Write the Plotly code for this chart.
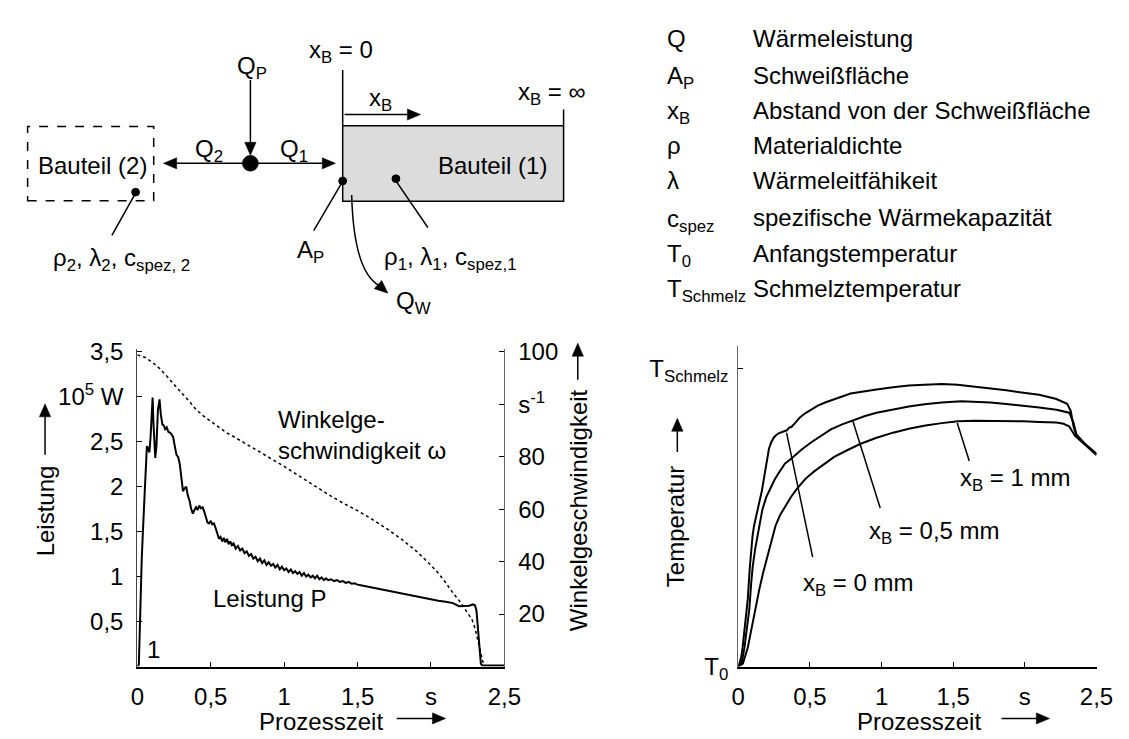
import math
import plotly.graph_objects as go

W, H = 1129, 739
FONT = "Liberation Sans, Arial, Helvetica, sans-serif"
FS = 24

# ---------------- data ----------------
# Leistung P in 10^5 W over Prozesszeit in s
power_points = [
    (0.000, 0.00), (0.010, 0.02), (0.020, 0.60), (0.030, 1.20), (0.044, 1.72), (0.055, 2.15), (0.065, 2.45), (0.075, 2.42), (0.082, 2.38), (0.090, 2.55),
    (0.098, 2.90), (0.104, 2.99), (0.110, 2.70), (0.116, 2.40), (0.122, 2.32), (0.130, 2.45), (0.140, 2.85), (0.151, 2.97), (0.160, 2.80), (0.171, 2.69),
    (0.180, 2.68), (0.189, 2.64), (0.200, 2.66), (0.211, 2.61), (0.222, 2.60), (0.233, 2.58), (0.244, 2.55), (0.255, 2.45), (0.267, 2.35), (0.278, 2.33),
    (0.289, 2.25), (0.300, 2.10), (0.311, 1.95), (0.322, 1.98), (0.333, 2.00), (0.344, 1.90), (0.356, 1.84), (0.367, 1.75), (0.378, 1.70), (0.389, 1.74),
    (0.400, 1.77), (0.411, 1.74), (0.422, 1.79), (0.433, 1.76), (0.445, 1.77), (0.456, 1.72), (0.467, 1.66), (0.478, 1.60), (0.489, 1.59), (0.500, 1.62),
    (0.511, 1.58), (0.522, 1.59), (0.533, 1.54), (0.544, 1.47), (0.556, 1.42), (0.567, 1.44), (0.578, 1.39), (0.589, 1.43), (0.600, 1.38), (0.611, 1.42),
    (0.622, 1.36), (0.633, 1.39), (0.644, 1.35), (0.655, 1.37), (0.670, 1.31), (0.685, 1.34), (0.700, 1.29), (0.715, 1.31), (0.730, 1.26), (0.745, 1.28),
    (0.760, 1.23), (0.775, 1.25), (0.790, 1.20), (0.805, 1.22), (0.820, 1.17), (0.835, 1.20), (0.850, 1.15), (0.865, 1.18), (0.880, 1.13), (0.895, 1.16),
    (0.910, 1.12), (0.925, 1.14), (0.940, 1.10), (0.955, 1.13), (0.970, 1.08), (0.985, 1.11), (1.000, 1.07), (1.015, 1.09), (1.030, 1.05), (1.045, 1.08),
    (1.060, 1.04), (1.075, 1.06), (1.090, 1.03), (1.105, 1.05), (1.120, 1.01), (1.135, 1.04), (1.150, 1.00), (1.165, 1.02), (1.180, 0.99), (1.195, 1.01),
    (1.210, 0.98), (1.225, 1.01), (1.240, 0.97), (1.255, 0.99), (1.270, 0.96), (1.285, 0.98), (1.300, 0.96), (1.320, 0.97), (1.340, 0.95), (1.360, 0.96),
    (1.380, 0.94), (1.400, 0.95), (1.420, 0.93), (1.440, 0.94), (1.460, 0.92), (1.480, 0.925), (1.500, 0.91), (1.530, 0.90), (1.560, 0.89), (1.590, 0.875),
    (1.620, 0.87), (1.650, 0.86), (1.680, 0.845), (1.710, 0.84), (1.740, 0.83), (1.770, 0.82), (1.800, 0.805), (1.830, 0.80), (1.860, 0.785), (1.900, 0.775),
    (1.950, 0.76), (2.000, 0.745), (2.050, 0.73), (2.100, 0.72), (2.150, 0.705), (2.190, 0.67), (2.220, 0.67), (2.260, 0.675), (2.285, 0.69), (2.300, 0.68),
    (2.310, 0.62), (2.320, 0.40), (2.330, 0.18), (2.340, 0.03), (2.350, 0.01), (2.400, 0.01), (2.450, 0.005), (2.500, 0.01),
]

# Winkelgeschwindigkeit omega (right axis units) over Prozesszeit in s
omega_points = [
    (0.00, 118.8), (0.05, 117.9), (0.10, 116.1), (0.15, 113.7), (0.20, 110.7), (0.25, 107.4), (0.30, 104.4), (0.35, 101.3),
    (0.40, 98.0), (0.45, 95.5), (0.50, 93.4), (0.60, 89.4), (0.70, 86.2), (0.80, 83.0), (0.90, 79.7), (1.00, 76.3),
    (1.10, 72.7), (1.20, 69.0), (1.30, 65.6), (1.40, 62.3), (1.50, 59.4), (1.60, 56.1), (1.70, 52.5), (1.80, 48.5),
    (1.90, 44.0), (2.00, 38.6), (2.05, 35.6), (2.10, 32.0), (2.15, 28.0), (2.20, 24.6), (2.25, 20.6), (2.28, 17.8),
    (2.30, 14.6), (2.32, 10.2), (2.335, 6.5), (2.35, 2.5), (2.36, 0.3),
]

# Temperatur (0 = T0, 1 = TSchmelz) over Prozesszeit in s
temp_0mm_points = [
    (0.000, 0.000), (0.020, 0.030), (0.030, 0.063), (0.050, 0.150), (0.066, 0.225), (0.080, 0.330), (0.089, 0.386), (0.100, 0.440),
    (0.110, 0.472), (0.125, 0.505), (0.146, 0.542), (0.165, 0.590), (0.180, 0.633), (0.200, 0.690), (0.214, 0.730), (0.230, 0.752),
    (0.248, 0.768), (0.265, 0.776), (0.282, 0.782), (0.310, 0.787), (0.339, 0.792), (0.355, 0.801), (0.370, 0.803), (0.396, 0.816),
    (0.430, 0.835), (0.464, 0.848), (0.510, 0.862), (0.555, 0.875), (0.610, 0.886), (0.669, 0.897), (0.730, 0.906), (0.783, 0.915),
    (0.870, 0.922), (0.965, 0.929), (1.080, 0.936), (1.190, 0.942), (1.300, 0.945), (1.420, 0.947), (1.530, 0.945), (1.650, 0.939),
    (1.760, 0.933), (1.870, 0.926), (1.990, 0.918), (2.100, 0.911), (2.220, 0.897), (2.270, 0.888), (2.295, 0.881), (2.320, 0.857),
    (2.340, 0.805), (2.360, 0.773), (2.420, 0.746), (2.500, 0.714),
]
temp_05mm_points = [
    (0.000, 0.000), (0.025, 0.015), (0.043, 0.063), (0.060, 0.125), (0.077, 0.192), (0.090, 0.280), (0.100, 0.332), (0.117, 0.392),
    (0.134, 0.440), (0.150, 0.485), (0.168, 0.526), (0.195, 0.568), (0.225, 0.601), (0.255, 0.628), (0.282, 0.649), (0.325, 0.680),
    (0.373, 0.698), (0.440, 0.727), (0.510, 0.752), (0.580, 0.775), (0.646, 0.795), (0.725, 0.812), (0.805, 0.827), (0.885, 0.840),
    (0.965, 0.851), (1.080, 0.862), (1.190, 0.872), (1.300, 0.879), (1.420, 0.885), (1.556, 0.889), (1.650, 0.888), (1.760, 0.885),
    (1.870, 0.880), (1.990, 0.875), (2.100, 0.868), (2.220, 0.861), (2.310, 0.851), (2.340, 0.816), (2.360, 0.778), (2.420, 0.746),
    (2.500, 0.711),
]
temp_1mm_points = [
    (0.000, 0.000), (0.032, 0.010), (0.066, 0.063), (0.100, 0.149), (0.123, 0.205), (0.146, 0.257), (0.172, 0.312), (0.200, 0.365),
    (0.230, 0.420), (0.260, 0.472), (0.292, 0.508), (0.328, 0.537), (0.370, 0.570), (0.418, 0.601), (0.470, 0.630), (0.532, 0.655),
    (0.600, 0.680), (0.669, 0.703), (0.760, 0.725), (0.850, 0.746), (0.960, 0.766), (1.080, 0.784), (1.190, 0.797), (1.306, 0.808),
    (1.420, 0.816), (1.533, 0.822), (1.650, 0.824), (1.760, 0.824), (1.870, 0.823), (1.990, 0.822), (2.100, 0.820), (2.220, 0.818),
    (2.270, 0.814), (2.310, 0.805), (2.350, 0.773), (2.420, 0.743), (2.500, 0.709),
]

time_tickvals = [0, 0.5, 1, 1.5, 2, 2.5]
time_ticktext = ["0", "0,5", "1", "1,5", "s", "2,5"]
power_tickvals = [0.5, 1, 1.5, 2, 2.5, 3, 3.5]
power_ticktext = ["0,5", "1", "1,5", "2", "2,5", "10<sup>5</sup> W", "3,5"]
omega_tickvals = [20, 40, 60, 80, 100, 120]
omega_ticktext = ["20", "40", "60", "80", "s<sup>-1</sup>", "100"]
temp_tickvals = [0, 1]
temp_ticktext = ["T<sub>0</sub>", "T<sub>Schmelz</sub>"]

legend_symbols = ["Q", "A<sub>P</sub>", "x<sub>B</sub>", "ρ", "λ", "c<sub>spez</sub>", "T<sub>0</sub>", "T<sub>Schmelz</sub>"]
legend_texts = ["Wärmeleistung", "Schweißfläche", "Abstand von der Schweißfläche", "Materialdichte",
                "Wärmeleitfähikeit", "spezifische Wärmekapazität", "Anfangstemperatur", "Schmelztemperatur"]


def unzip(pts):
    return [p[0] for p in pts], [p[1] for p in pts]


def px(x):
    return x / W


def py(y):
    return 1 - y / H


fig = go.Figure()

t, p = unzip(power_points)
fig.add_trace(go.Scatter(x=t, y=p, mode="lines", line=dict(color="black", width=2),
                         xaxis="x", yaxis="y", hoverinfo="skip", name="Leistung P"))
t, w = unzip(omega_points)
fig.add_trace(go.Scatter(x=t, y=w, mode="lines", line=dict(color="black", width=1.5, dash="dot"),
                         xaxis="x", yaxis="y2", hoverinfo="skip", name="Winkelgeschwindigkeit"))
for name, pts in (("x_B = 0 mm", temp_0mm_points), ("x_B = 0,5 mm", temp_05mm_points), ("x_B = 1 mm", temp_1mm_points)):
    t, T = unzip(pts)
    fig.add_trace(go.Scatter(x=t, y=T, mode="lines", line=dict(color="black", width=2),
                             xaxis="x3", yaxis="y3", hoverinfo="skip", name=name))

tickfont = dict(family=FONT, size=FS, color="black")
common = dict(showgrid=False, zeroline=False, showline=True, ticks="inside", ticklen=5,
              tickwidth=1.2, tickcolor="black", tickfont=tickfont, fixedrange=True, tickmode="array")

shapes = []
annotations = []


def line(x0, y0, x1, y1, width=1.5, dash=None, color="black"):
    d = dict(color=color, width=width)
    if dash:
        d["dash"] = dash
    shapes.append(dict(type="line", xref="paper", yref="paper",
                       x0=px(x0), y0=py(y0), x1=px(x1), y1=py(y1), line=d))


def dot(x, y, r):
    shapes.append(dict(type="circle", xref="paper", yref="paper",
                       x0=px(x - r), x1=px(x + r), y0=py(y + r), y1=py(y - r),
                       fillcolor="black", line=dict(color="black", width=1)))


def text(x, y, s, xanchor="center", yanchor="middle", angle=0, size=FS, align="center"):
    annotations.append(dict(x=px(x), y=py(y), xref="paper", yref="paper", text=s, showarrow=False,
                            xanchor=xanchor, yanchor=yanchor, textangle=angle, align=align,
                            font=dict(family=FONT, size=size, color="black")))


def head(x_tip, y_tip, ux, uy, length=13.5, half=5.8):
    bx, by = x_tip - ux * length, y_tip - uy * length
    nx, ny = -uy, ux
    path = "M %.5f,%.5f L %.5f,%.5f L %.5f,%.5f Z" % (
        px(x_tip), py(y_tip), px(bx + nx * half), py(by + ny * half), px(bx - nx * half), py(by - ny * half))
    shapes.append(dict(type="path", xref="paper", yref="paper", path=path,
                       fillcolor="black", line=dict(color="black", width=0.5)))
    return bx, by


def arrow(x_tip, y_tip, x_tail, y_tail, width=1.5):
    dx, dy = x_tip - x_tail, y_tip - y_tail
    L = math.hypot(dx, dy)
    ux, uy = dx / L, dy / L
    bx, by = head(x_tip, y_tip, ux, uy)
    line(x_tail, y_tail, bx + ux * 1.5, by + uy * 1.5, width=width)


# ---------------- top-left schematic ----------------
shapes.append(dict(type="rect", xref="paper", yref="paper", x0=px(12.9), x1=px(141.7), y0=py(189), y1=py(111.7),
                   line=dict(color="black", width=1.5, dash="dash")))
shapes.append(dict(type="rect", xref="paper", yref="paper", x0=px(334.8), x1=px(560.5), y0=py(189.3), y1=py(111),
                   fillcolor="#dcdcdc", line=dict(color="black", width=1.5)))
line(334.8, 53, 334.8, 111)
line(560.5, 94, 560.5, 111)
dot(123.2, 180, 4)
dot(240.5, 150, 8)
dot(334.8, 168.3, 4)
dot(389.2, 166, 4)
line(122, 183, 99, 225)
line(334, 170, 305.2, 220)
line(389, 168, 421.8, 216.7)
arrow(240.5, 141.7, 240.5, 63.3)
arrow(151.7, 150, 240.5, 150)
arrow(327.4, 150, 240.5, 150)
arrow(414.4, 99.3, 336.7, 99.3)
# curved Q_W arrow
qx, qy = 381.0, 285.0
dxq, dyq = 10.5, 9.3
Lq = math.hypot(dxq, dyq)
bxq, byq = head(qx, qy, dxq / Lq, dyq / Lq)
shapes.append(dict(type="path", xref="paper", yref="paper",
                   path="M %.5f,%.5f Q %.5f,%.5f %.5f,%.5f" % (px(344), py(183), px(346), py(262), px(bxq + 1), py(byq + 1)),
                   line=dict(color="black", width=1.5)))

text(333, 34, "x<sub>B</sub> = 0")
text(242, 50, "Q<sub>P</sub>")
text(512, 77, "x<sub>B</sub> = ∞", xanchor="left")
text(373, 84, "x<sub>B</sub>")
text(198, 137, "Q<sub>2</sub>")
text(285, 137, "Q<sub>1</sub>")
text(79, 152, "Bauteil (2)")
text(488, 152, "Bauteil (1)")
text(301.5, 242, "A<sub>P</sub>")
text(109, 250, "ρ<sub>2</sub>, λ<sub>2</sub>, c<sub>spez, 2</sub>")
text(444, 249, "ρ<sub>1</sub>, λ<sub>1</sub>, c<sub>spez,1</sub>")
text(387, 295, "Q<sub>W</sub>", xanchor="left")

# ---------------- top-right symbol list ----------------
row_y = [20.7, 58.3, 95, 131.7, 168.3, 206.7, 243.3, 280]
for yy, sym, desc in zip(row_y, legend_symbols, legend_texts):
    has_sub = "<sub>" in sym
    text(664, yy + (2.5 if has_sub else 0), sym, xanchor="left")
    text(751.6, yy, desc, xanchor="left")

# ---------------- bottom-left chart labels ----------------
text(30.7, 511.7, "Leistung", angle=-90)
arrow(30.7, 400, 30.7, 453)
text(576, 510.8, "Winkelgeschwindigkeit", angle=-90)
arrow(575, 337, 575, 375)
text(267, 432, "Winkelge-<br>schwindigkeit ω", xanchor="left", align="left")
text(260, 602, "Leistung P")
text(141.7, 655, "1")
text(312.5, 730, "Prozesszeit")
arrow(440, 727, 390, 727)

# ---------------- bottom-right chart labels ----------------
text(675, 527.5, "Temperatur", angle=-90)
arrow(676.7, 415, 676.7, 450)
text(924, 730, "Prozesszeit")
arrow(1057, 727, 1008, 727)
line(962.7, 420, 975, 459.3)
line(855.7, 416.7, 884, 508.3)
line(788.3, 430, 815, 559.3)
text(1022.5, 479, "x<sub>B</sub> = 1 mm")
text(939, 534, "x<sub>B</sub> = 0,5 mm")
text(861.7, 588, "x<sub>B</sub> = 0 mm")

fig.update_layout(
    width=W, height=H, margin=dict(l=0, r=0, t=0, b=0),
    paper_bgcolor="white", plot_bgcolor="white", showlegend=False,
    font=dict(family=FONT, size=FS, color="black"),
    xaxis=dict(**common, domain=[px(125), px(500)], range=[0, 2.5], anchor="y",
               tickvals=time_tickvals, ticktext=time_ticktext,
               linecolor="black", linewidth=1.6, ticklabelstandoff=8),
    yaxis=dict(**common, domain=[py(673), py(343)], range=[0, 3.53], anchor="x",
               tickvals=power_tickvals, ticktext=power_ticktext,
               linecolor="#444", linewidth=1.2, ticklabelstandoff=8),
    yaxis2=dict(**common, overlaying="y", side="right", anchor="x", range=[0, 121.03],
                tickvals=omega_tickvals, ticktext=omega_ticktext,
                linecolor="#666", linewidth=1.2, ticklabelstandoff=8),
    xaxis3=dict(**common, domain=[px(739), px(1105)], range=[0, 2.5], anchor="y3",
                tickvals=time_tickvals, ticktext=time_ticktext,
                linecolor="black", linewidth=1.6, ticklabelstandoff=8),
    yaxis3=dict(**common, domain=[py(673), py(340)], range=[0, 1.0742], anchor="x3",
                tickvals=temp_tickvals, ticktext=temp_ticktext,
                linecolor="#666", linewidth=1.2, ticklabelstandoff=4),
    shapes=shapes,
    annotations=annotations,
)

fig.write_html("out.html")
